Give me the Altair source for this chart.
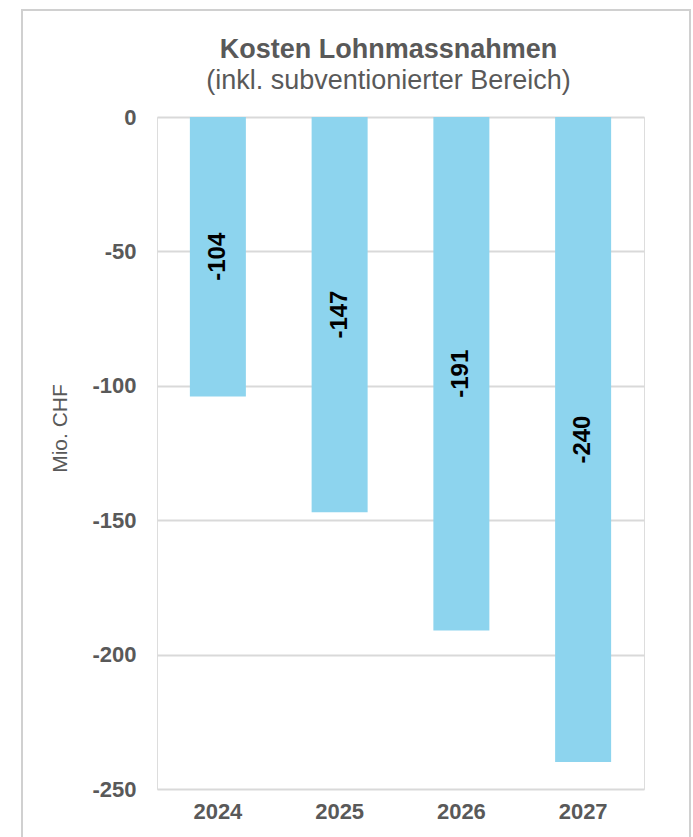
import altair as alt
import pandas as pd

# Costs of wage measures, million CHF
years = ["2024", "2025", "2026", "2027"]
costs = [-104, -147, -191, -240]

df = pd.DataFrame({"Jahr": years, "Kosten": costs})

FONT = "Liberation Sans"
GREY = "#595959"

base = alt.Chart(df)

y_scale = alt.Scale(domain=[-250, 0], nice=False)

bars = base.mark_bar(color="#8DD4EE").encode(
    x=alt.X("Jahr:N", sort=years,
            scale=alt.Scale(paddingInner=0.54, paddingOuter=0.27),
            axis=alt.Axis(title=None, labelAngle=0, domain=False, ticks=False,
                          labelFont=FONT, labelFontSize=22, labelFontWeight="bold",
                          labelColor=GREY, labelPadding=12)),
    y=alt.Y("Kosten:Q", scale=y_scale,
            axis=alt.Axis(title="Mio. CHF", values=[0, -50, -100, -150, -200, -250],
                          labelExpr="toString(datum.value)",
                          domain=False, ticks=False, grid=True, gridColor="#D9D9D9",
                          gridWidth=2, labelFont=FONT, labelFontSize=22,
                          labelFontWeight="bold", labelColor=GREY, labelPadding=21,
                          titleFont=FONT, titleFontSize=21, titleFontWeight="normal",
                          titleColor=GREY, titleX=-97, titleY=311, titleAngle=270,
                          titleAlign="center", titleBaseline="middle")),
)

labels = base.transform_calculate(
    mid="datum.Kosten / 2", txt="toString(datum.Kosten)"
).mark_text(
    angle=270, font=FONT, fontSize=24, fontWeight="bold", color="#000000",
    align="center", baseline="middle",
).encode(
    x=alt.X("Jahr:N", sort=years),
    y=alt.Y("mid:Q", scale=y_scale),
    text=alt.Text("txt:N"),
)

# outer chart frame
frame = alt.Chart(pd.DataFrame({"k": [0]})).mark_rect(
    fill=None, stroke="#D0D0D0", strokeWidth=2
).encode(
    x=alt.value(-135), x2=alt.value(533), y=alt.value(-107), y2=alt.value(760)
)

chart = alt.layer(frame, bars, labels).properties(
    width=487,
    height=672,
    title=alt.TitleParams(
        text="Kosten Lohnmassnahmen",
        subtitle="(inkl. subventionierter Bereich)",
        anchor="middle", frame="group", dx=-12, offset=-86,
        font=FONT, fontSize=27, fontWeight="bold", color=GREY,
        subtitleFont=FONT, subtitleFontSize=27, subtitleColor=GREY,
        subtitlePadding=4,
    ),
    autosize=alt.AutoSizeParams(type="none"),
    padding={"left": 157, "top": 117, "right": 49, "bottom": 48},
).configure_view(stroke=None).configure(background="white")

chart.save("out.html", embed_options={"renderer": "svg", "actions": False})
